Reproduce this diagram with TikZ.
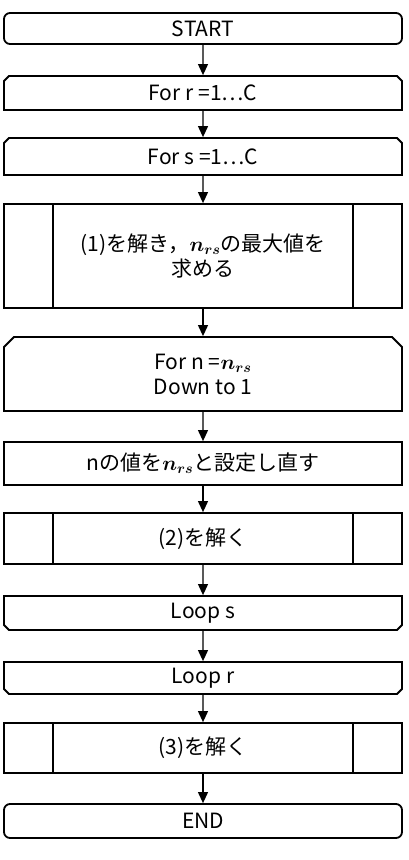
\documentclass[tikz,border=0pt]{standalone}
\usepackage{fontspec}
\usepackage{bm}
\setmainfont{Noto Sans CJK JP}
\usetikzlibrary{arrows.meta, shapes.misc}

\newcommand{\nrs}{$\bm{n}_{\bm{rs}}$}

\begin{document}
\begin{tikzpicture}[x=1pt, y=-1pt, >={Triangle[width=10pt, length=11pt]},
  box/.style={draw, line width=1.8pt, minimum width=398pt, inner sep=0pt,
    align=center, font=\fontsize{21}{25}\selectfont},
  term/.style={box, rounded corners=6pt},
  loopstart/.style={box, chamfered rectangle, chamfered rectangle sep=#1,
    chamfered rectangle corners={north west, north east}},
  loopstart/.default=2.5pt,
  loopend/.style={box, chamfered rectangle, chamfered rectangle sep=#1,
    chamfered rectangle corners={south west, south east}},
  loopend/.default=2.5pt,
  subproc/.style={box, path picture={
    \draw[line width=1.8pt] ([xshift=49pt]path picture bounding box.north west)
      -- ([xshift=49pt]path picture bounding box.south west);
    \draw[line width=1.8pt] ([xshift=-49pt]path picture bounding box.north east)
      -- ([xshift=-49pt]path picture bounding box.south east);}},
  flow/.style={->, line width=1.1pt}]
  \useasboundingbox (0,0) rectangle (409,860);
  % Boxes, top to bottom
  \node[term, minimum height=31pt] (start) at (203,28.5) {START};
  \node[loopstart, minimum height=34pt] (forr) at (203,93) {For r =1…C};
  \node[loopstart, minimum height=37pt] (fors) at (203,156.5) {For s =1…C};
  \node[subproc, minimum height=104pt] (solve1) at (203,256)
    {(1)を解き，\nrs の最大値を\\求める};
  \node[loopstart=5pt, minimum height=74pt] (forn) at (203,374)
    {For n =\nrs\\Down to 1};
  \node[box, minimum height=43pt] (reset) at (203,463.5)
    {nの値を\nrs と設定し直す};
  \node[subproc, minimum height=51pt] (solve2) at (203,538.5) {(2)を解く};
  \node[loopend, minimum height=34pt] (loops) at (203,613) {Loop s};
  \node[loopend, minimum height=32pt] (loopr) at (203,678) {Loop r};
  \node[subproc, minimum height=50pt] (solve3) at (203,748) {(3)を解く};
  \node[term, minimum height=34pt] (end) at (203,821) {END};
  % Arrows
  \foreach \a/\b in {start/forr, forr/fors, fors/solve1, solve1/forn,
      forn/reset, reset/solve2, solve2/loops, loops/loopr, loopr/solve3,
      solve3/end}
    \draw[flow] (\a) -- (\b);
\end{tikzpicture}
\end{document}
